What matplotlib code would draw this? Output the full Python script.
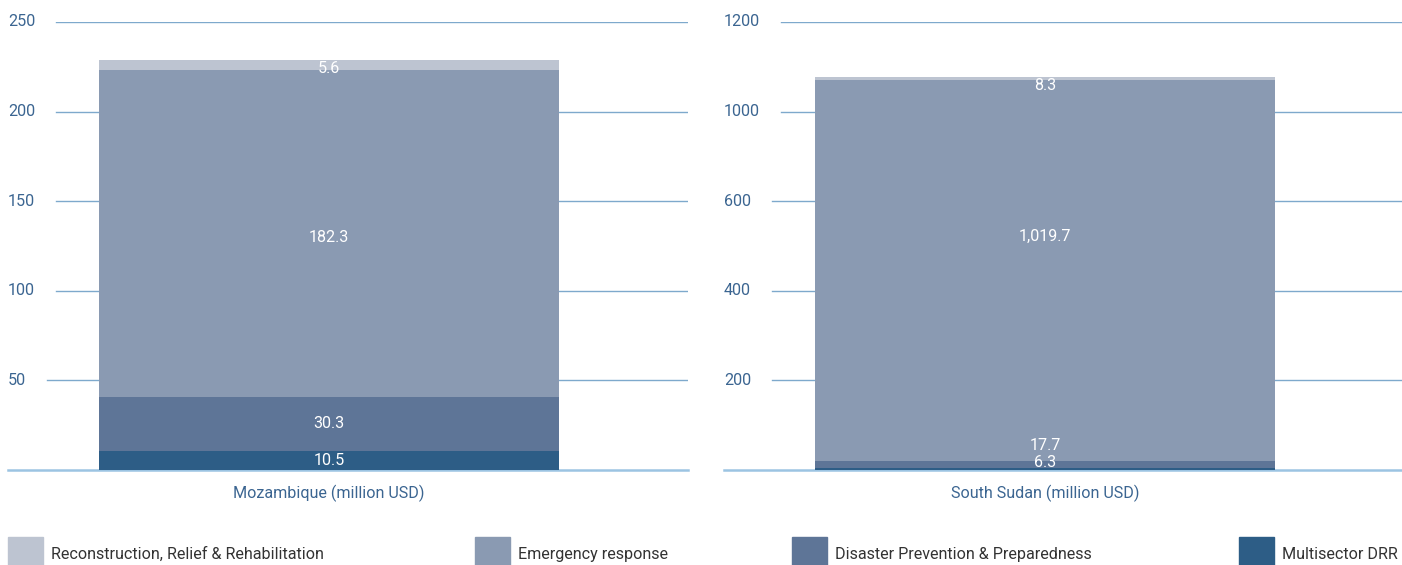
import matplotlib
matplotlib.use("Agg")
import matplotlib.pyplot as plt
from matplotlib.patches import Rectangle

plt.rcParams['font.family'] = ['Roboto', 'DejaVu Sans']

# data
series = ["Multisector DRR", "Disaster Prevention & Preparedness",
          "Emergency response", "Reconstruction, Relief & Rehabilitation"]
colors = ["#2d5d86", "#5e7597", "#8a9ab2", "#bdc4d1"]

moz_values = [10.5, 30.3, 182.3, 5.6]
moz_labels = ["10.5", "30.3", "182.3", "5.6"]
ssd_values = [6.3, 17.7, 1019.7, 8.3]
ssd_labels = ["6.3", "17.7", "1,019.7", "8.3"]

moz_ticks = [50, 100, 150, 200, 250]
moz_tick_labels = ["50", "100", "150", "200", "250"]
ssd_ticks = [240, 480, 720, 960, 1200]
ssd_tick_labels = ["200", "400", "600", "1000", "1200"]

W, H = 1402, 565
fig = plt.figure(figsize=(W / 100, H / 100), dpi=100)

blue_txt = "#3b6591"
grid_col = "#7ea9cc"
base_col = "#9cc4e2"
fs = 11.6


def panel(left_px, width_px, values, labels, ymax, ticks, tick_labels, name, offsets):
    ax = fig.add_axes([left_px / W, (H - 470) / H, width_px / W, (470 - 22) / H])
    bar_w = 460
    ax.set_xlim(-321 / bar_w, (width_px - 321) / bar_w)
    ax.set_ylim(0, ymax)
    ax.axis("off")
    # grid lines start after the tick text
    for t, lab in zip(ticks, tick_labels):
        start = (8.7 * len(lab) + 22) / width_px
        ax.axhline(t, xmin=start, xmax=1, color=grid_col, lw=1, zorder=1)
        ax.text(0, t, lab, transform=ax.get_yaxis_transform(), ha="left",
                va="center", fontsize=fs, color=blue_txt)
    ax.axhline(0, color=base_col, lw=1.8, zorder=1, clip_on=False)
    bottom = 0
    for v, lab, c, off in zip(values, labels, colors, offsets):
        ax.bar(0, v, width=1, bottom=bottom, color=c, zorder=2)
        ax.annotate(lab, (0, bottom + v / 2), xytext=(0, off * 0.72),
                    textcoords="offset points", ha="center", va="center",
                    fontsize=fs, color="white", zorder=3)
        bottom += v
    ax.text(0, -0.052, name, transform=ax.get_xaxis_transform(), ha="center",
            va="center", fontsize=fs, color=blue_txt)
    return ax


panel(8, 680, moz_values, moz_labels, 250, moz_ticks, moz_tick_labels,
      "Mozambique (million USD)", [0, 1, -4, -3])
panel(724, 678, ssd_values, ssd_labels, 1200, ssd_ticks, ssd_tick_labels,
      "South Sudan (million USD)", [6, 19, 34, -7])

# legend along the bottom
legend_x = [8, 475, 792, 1239]
legend_order = [3, 2, 1, 0]
for x, i in zip(legend_x, legend_order):
    fig.patches.append(Rectangle((x / W, 0), 35 / W, 28 / H, transform=fig.transFigure,
                                 color=colors[i], figure=fig))
    fig.text((x + 43) / W, (H - 554.5) / H, series[i], ha="left", va="center",
             fontsize=fs, color="#333333")

fig.savefig("out.png", dpi=100)
